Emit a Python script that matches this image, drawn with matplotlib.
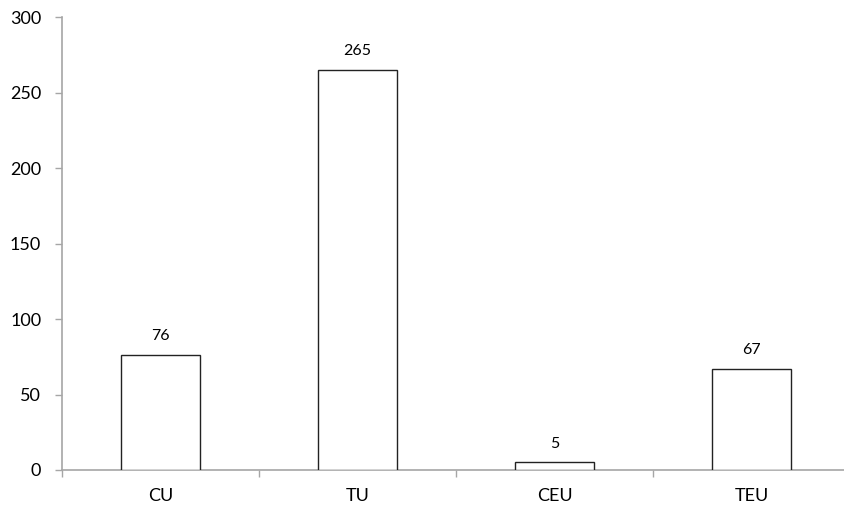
import numpy as np
import matplotlib.pyplot as plt

plt.rcParams['font.family'] = ['Lato', 'DejaVu Sans']

# Data
categories = ['CU', 'TU', 'CEU', 'TEU']
counts = [76, 265, 5, 67]
y_ticks = [0, 50, 100, 150, 200, 250, 300]

axis_grey = '#a6a6a6'

fig = plt.figure(figsize=(8.45, 5.11), dpi=100)
W, H = 845, 511
# axes box in pixels: left 62, bottom 470, top 17, width 788 (runs off the right edge)
ax = fig.add_axes([62 / W, 1 - 470 / H, 788 / W, (470 - 17) / H])

x = np.arange(len(categories))
bars = ax.bar(x, counts, width=0.4, color='white', edgecolor='#222222',
              linewidth=1.0, zorder=3)

for xi, v in zip(x, counts):
    ax.annotate(f'{v}', xy=(xi, v), xytext=(0, 8.5), textcoords='offset points',
                ha='center', va='bottom', fontsize=11.5, color='black')

ax.set_xlim(-0.5, len(categories) - 0.5)
ax.set_ylim(0, 300)
ax.set_yticks(y_ticks)
ax.set_yticklabels([str(t) for t in y_ticks], fontsize=13)

ax.set_xticks(x)
ax.set_xticklabels(categories, fontsize=13)
ax.set_xticks(np.arange(-0.5, len(categories)), minor=True)
ax.tick_params(axis='x', which='major', length=0, pad=13)
ax.tick_params(axis='x', which='minor', length=5, width=1, color=axis_grey,
               direction='out')
ax.tick_params(axis='y', length=5, width=1, color=axis_grey, direction='out',
               pad=10)

for side in ['top', 'right']:
    ax.spines[side].set_visible(False)
for side in ['left', 'bottom']:
    ax.spines[side].set_color(axis_grey)
    ax.spines[side].set_linewidth(1.2)

fig.savefig('out.png', dpi=100)
